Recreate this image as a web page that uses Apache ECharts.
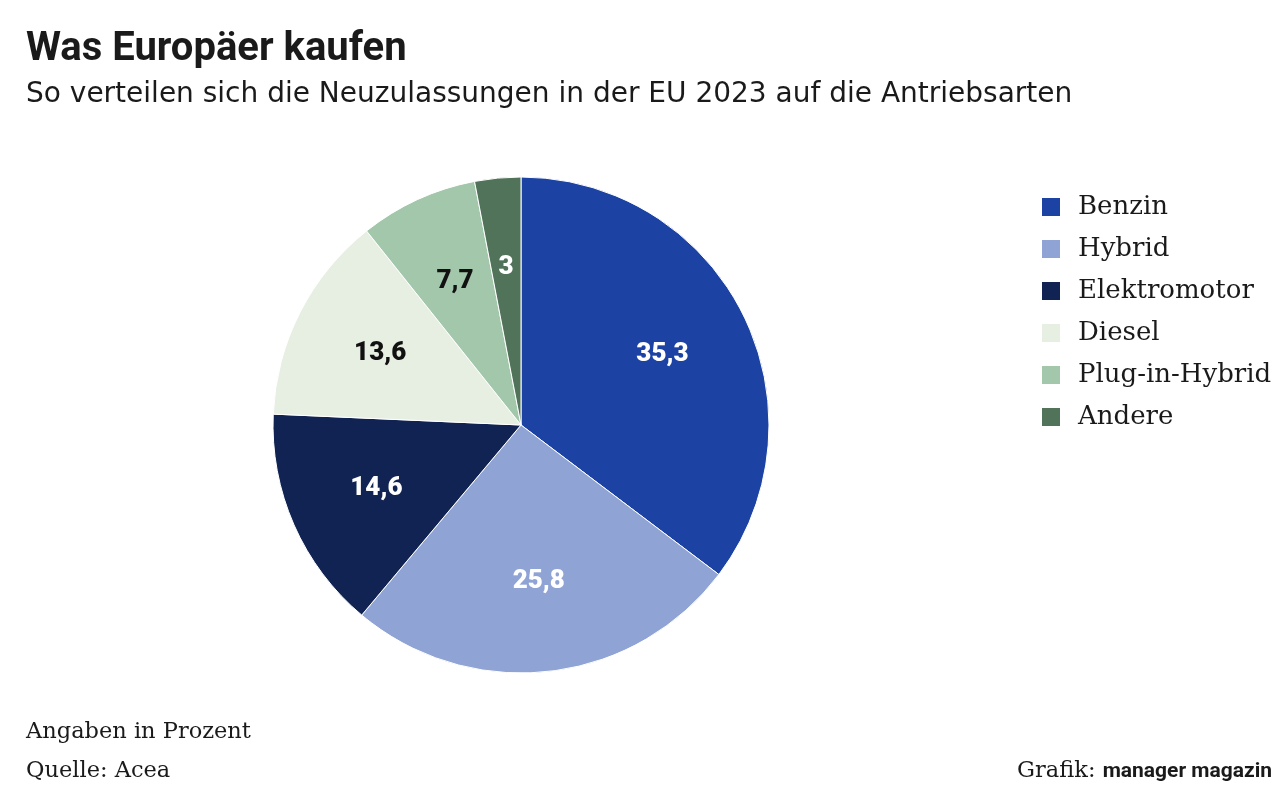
<!DOCTYPE html>
<html><head><meta charset="utf-8">
<script src="https://cdn.jsdelivr.net/npm/echarts@6/dist/echarts.min.js"></script>
<style>html,body{margin:0;padding:0;background:#fff}#c{width:1273px;height:798px}</style>
</head><body><div id="c"></div>
<script>
const categories = ['Benzin','Hybrid','Elektromotor','Diesel','Plug-in-Hybrid','Andere'];
const values = [35.3, 25.8, 14.6, 13.6, 7.7, 3];
const colors = ['#1c43a3','#8fa3d4','#112352','#e6efe2','#a3c7ab','#51735a'];
const labelColors = ['#fff','#fff','#fff','#111','#111','#fff'];

const chart = echarts.init(document.getElementById('c'), null, {renderer:'canvas'});
const data = categories.map((n,i)=>({name:n, value:values[i], itemStyle:{color:colors[i]}}));
const labelData = categories.map((n,i)=>({name:n, value:values[i],
  label:{color:labelColors[i]}}));
const sans = 'Roboto, "Noto Sans", sans-serif';
const serif = '"DejaVu Serif", "Liberation Serif", serif';
chart.setOption({
  animation:false,
  title:[
    {text:'Was Europäer kaufen', left:21, top:25, textStyle:{fontFamily:sans, fontSize:40, fontWeight:'bold', color:'#1a1a1a'}},
    {text:'So verteilen sich die Neuzulassungen in der EU 2023 auf die Antriebsarten', left:21, top:76, textStyle:{fontFamily:'"DejaVu Sans", sans-serif', fontSize:28, fontWeight:'normal', color:'#1a1a1a'}},
    {text:'Angaben in Prozent', left:21, top:716, textStyle:{fontFamily:serif, fontSize:22.5, fontWeight:'normal', color:'#1a1a1a'}},
    {text:'Quelle: Acea', left:21, top:755, textStyle:{fontFamily:serif, fontSize:22.5, fontWeight:'normal', color:'#1a1a1a'}},
    {text:'{a|Grafik: }{b|manager magazin}', right:-4, top:755, textStyle:{rich:{
      a:{fontFamily:serif, fontSize:22.5, fontWeight:'normal', color:'#1a1a1a'},
      b:{fontFamily:sans, fontSize:21, fontWeight:'bold', color:'#1a1a1a'}}}}
  ],
  legend:{
    orient:'vertical', left:1040, top:194, padding:0, itemWidth:20, itemHeight:20, itemGap:16,
    icon:'rect', data:categories,
    textStyle:{fontFamily:serif, fontSize:26, color:'#1a1a1a', padding:[0,0,0,12]}
  },
  series:[
    {type:'pie', center:[521,425], radius:[0,248], startAngle:90, clockwise:true,
     data:data, label:{show:false}, labelLine:{show:false},
     itemStyle:{borderColor:'#fff', borderWidth:1}, silent:true},
    {type:'pie', center:[521,425], radius:[0,310], startAngle:90, clockwise:true,
     data:labelData, silent:true, legendHoverLink:false,
     itemStyle:{color:'rgba(0,0,0,0)'},
     label:{show:true, position:'inside', fontFamily:sans, fontWeight:900, fontSize:26,
       formatter:p=>String(p.value).replace('.',',')},
     labelLine:{show:false}}
  ]
});
</script></body></html>
